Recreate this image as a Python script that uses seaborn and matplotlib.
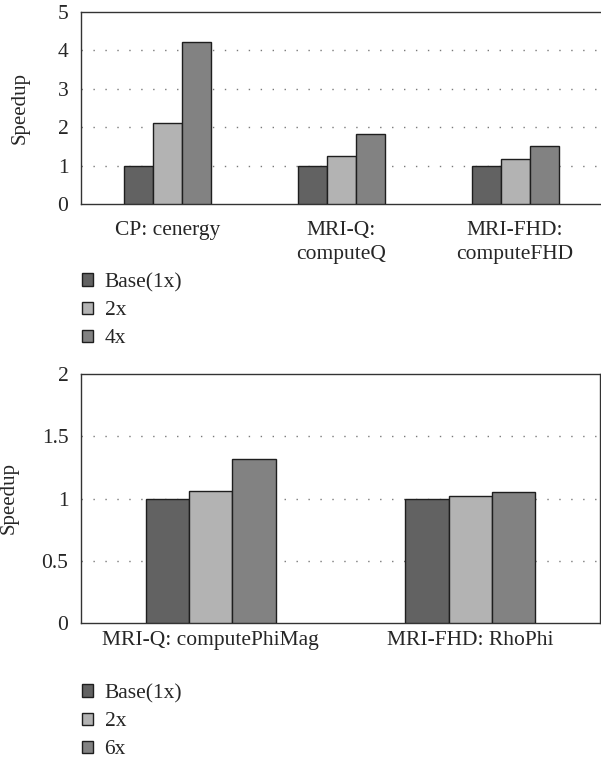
import pandas as pd
import matplotlib
matplotlib.use("Agg")
import matplotlib.pyplot as plt
from matplotlib.patches import Patch
import seaborn as sns

# top chart data
top_kernels = ["CP: cenergy", "MRI-Q:\ncomputeQ", "MRI-FHD:\ncomputeFHD"]
top_versions = ["Base(1x)", "2x", "4x"]
top_base = [1.0, 1.0, 1.0]
top_2x = [2.11, 1.24, 1.16]
top_4x = [4.22, 1.82, 1.50]

# bottom chart data
bot_kernels = ["MRI-Q: computePhiMag", "MRI-FHD: RhoPhi"]
bot_versions = ["Base(1x)", "2x", "6x"]
bot_base = [1.0, 1.0]
bot_2x = [1.06, 1.02]
bot_6x = [1.32, 1.055]

colors = ["#626262", "#b3b3b3", "#828282"]
edge = "#1e1e1e"
FS = 15.5

sns.set_style("white")
plt.rcParams['font.family'] = ['Liberation Serif', 'DejaVu Serif']
plt.rcParams['font.size'] = FS


def long_table(kernels, versions, series):
    rows = []
    for v, vals in zip(versions, series):
        for k, s in zip(kernels, vals):
            rows.append({"kernel": k, "version": v, "speedup": s})
    return pd.DataFrame(rows)


def draw(ax, df, kernels, versions, ymax, ystep, ylab_x, xpad, leg_top):
    sns.barplot(data=df, x="kernel", y="speedup", hue="version", order=kernels,
                hue_order=versions, palette=colors, saturation=1, width=0.5,
                edgecolor=edge, linewidth=1.0, legend=False, ax=ax, zorder=3)
    n = len(kernels)
    ax.set_xlim(-0.5, n - 0.5)
    ax.set_ylim(0, ymax)
    yt = [i * ystep for i in range(int(round(ymax / ystep)) + 1)]
    ax.set_yticks(yt)
    ax.set_yticklabels([f"{t:g}" for t in yt])
    ax.set_xticks(range(n))
    ax.set_xticklabels(kernels, linespacing=1.35)
    ax.set_xticks([i - 0.5 for i in range(n + 1)], minor=True)
    ax.tick_params(axis="x", which="major", length=0, pad=xpad, labelsize=FS)
    ax.tick_params(axis="x", which="minor", length=5, width=1, color="#333333", direction="out")
    ax.tick_params(axis="y", length=5, width=1, color="#333333", direction="out", pad=4, labelsize=FS)
    ax.set_xlabel("")
    ax.set_ylabel("Speedup", fontsize=15)
    ax.yaxis.set_label_coords(ylab_x, 0.5)
    for t in yt[1:-1]:
        ax.axhline(t, color="#7a7a7a", lw=1.0, ls=(0, (1, 7.6)), zorder=1)
    for name, sp in ax.spines.items():
        sp.set_color("#333333")
        sp.set_linewidth(1.0)
    handles = [Patch(facecolor=c, edgecolor=edge, linewidth=1.0) for c in colors]
    fig.legend(handles, versions, loc="upper left", bbox_to_anchor=(82 / 601, leg_top),
               frameon=False, borderpad=0, borderaxespad=0, handlelength=0.5,
               handleheight=0.5, handletextpad=0.55, labelspacing=0.42, fontsize=FS)


fig = plt.figure(figsize=(6.01, 7.61), dpi=100)
W, H = 601, 761

ax1 = fig.add_axes([81 / W, 1 - 204 / H, 521 / W, 192 / H])
df1 = long_table(top_kernels, top_versions, [top_base, top_2x, top_4x])
draw(ax1, df1, top_kernels, top_versions, 5, 1, -0.098, 12, 1 - 273 / H)

ax2 = fig.add_axes([81 / W, 1 - 623 / H, 519 / W, 249 / H])
df2 = long_table(bot_kernels, bot_versions, [bot_base, bot_2x, bot_6x])
draw(ax2, df2, bot_kernels, bot_versions, 2, 0.5, -0.121, 6, 1 - 684 / H)

fig.savefig("out.png", dpi=100)
